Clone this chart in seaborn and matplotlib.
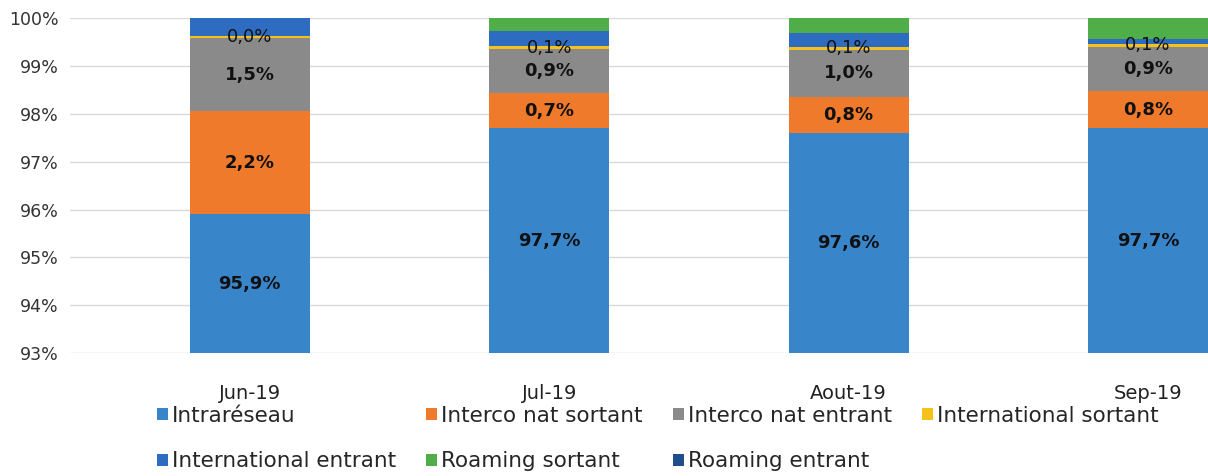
import numpy as np
import matplotlib
matplotlib.use("Agg")
import matplotlib.pyplot as plt
from matplotlib.patches import Patch
import seaborn as sns

months = ["Jun-19", "Jul-19", "Aout-19", "Sep-19"]
series_names = ["Intraréseau", "Interco nat sortant", "Interco nat entrant",
                "International sortant", "International entrant",
                "Roaming sortant", "Roaming entrant"]
intrareseau = [95.9, 97.7, 97.6, 97.7]
interco_sortant = [2.16, 0.73, 0.76, 0.78]
interco_entrant = [1.52, 0.92, 0.98, 0.92]
intl_sortant = [0.04, 0.06, 0.06, 0.06]
intl_entrant = [0.38, 0.31, 0.29, 0.10]
roaming_sortant = [0.0, 0.28, 0.31, 0.44]
roaming_entrant = [0.0, 0.0, 0.0, 0.0]
y_ticks = [93, 94, 95, 96, 97, 98, 99, 100]

colors = ["#3885CA", "#EF7A2C", "#8A8A8A", "#F5C21B", "#2D6CC0", "#4FAE48", "#1F4E8A"]
labelled = [True, True, True, True, False, False, False]
bold = [True, True, True, False, False, False, False]

sns.set_theme(style="white")
plt.rcParams['font.family'] = ['DejaVu Sans']

fig = plt.figure(figsize=(12.08, 4.76), dpi=100)
ax = fig.add_axes([0.058, 0.258, 0.942, 0.704])

data = np.array([intrareseau, interco_sortant, interco_entrant, intl_sortant,
                 intl_entrant, roaming_sortant, roaming_entrant])
cum = np.cumsum(data, axis=0)

# draw from the top layer down so each lower layer covers the upper cumulative bar
for i in range(len(series_names) - 1, -1, -1):
    sns.barplot(x=months, y=cum[i], order=months, color=colors[i], saturation=1,
                width=0.4, ax=ax, linewidth=0)

ax.set_ylim(93, 100)
ax.set_xlim(-0.6, 3.2)
ax.set_yticks(y_ticks)
ax.set_yticklabels([f"{t}%" for t in y_ticks], fontsize=12.5, color="#333333")
ax.yaxis.grid(True, color="#D9D9D9", linewidth=1)
ax.set_axisbelow(True)
for s in ax.spines.values():
    s.set_visible(False)
ax.tick_params(axis="y", length=0, pad=8)
ax.tick_params(axis="x", length=0, pad=22, labelsize=14, labelcolor="#222222")
ax.set_xlabel("")
ax.set_ylabel("")

for i in range(len(series_names)):
    if not labelled[i]:
        continue
    for j in range(len(months)):
        bottom = cum[i - 1][j] if i > 0 else 93.0
        top = cum[i][j]
        yc = (bottom + top) / 2
        txt = f"{data[i][j]:.1f}%".replace(".", ",")
        ax.text(j, yc, txt, ha="center", va="center", fontsize=13,
                fontweight="bold" if bold[i] else "normal", color="#111111")

handles = [Patch(facecolor=c, edgecolor="none") for c in colors]
order = [0, 4, 1, 5, 2, 6, 3]
fig.legend([handles[k] for k in order], [series_names[k] for k in order],
           ncol=4, loc="upper left", bbox_to_anchor=(0.13, 0.148),
           frameon=False, fontsize=15.5, handlelength=0.5, handleheight=0.5,
           handletextpad=0.2, columnspacing=1.4, labelspacing=1.2,
           borderpad=0, borderaxespad=0)

fig.savefig("out.png", dpi=100, facecolor="white")
